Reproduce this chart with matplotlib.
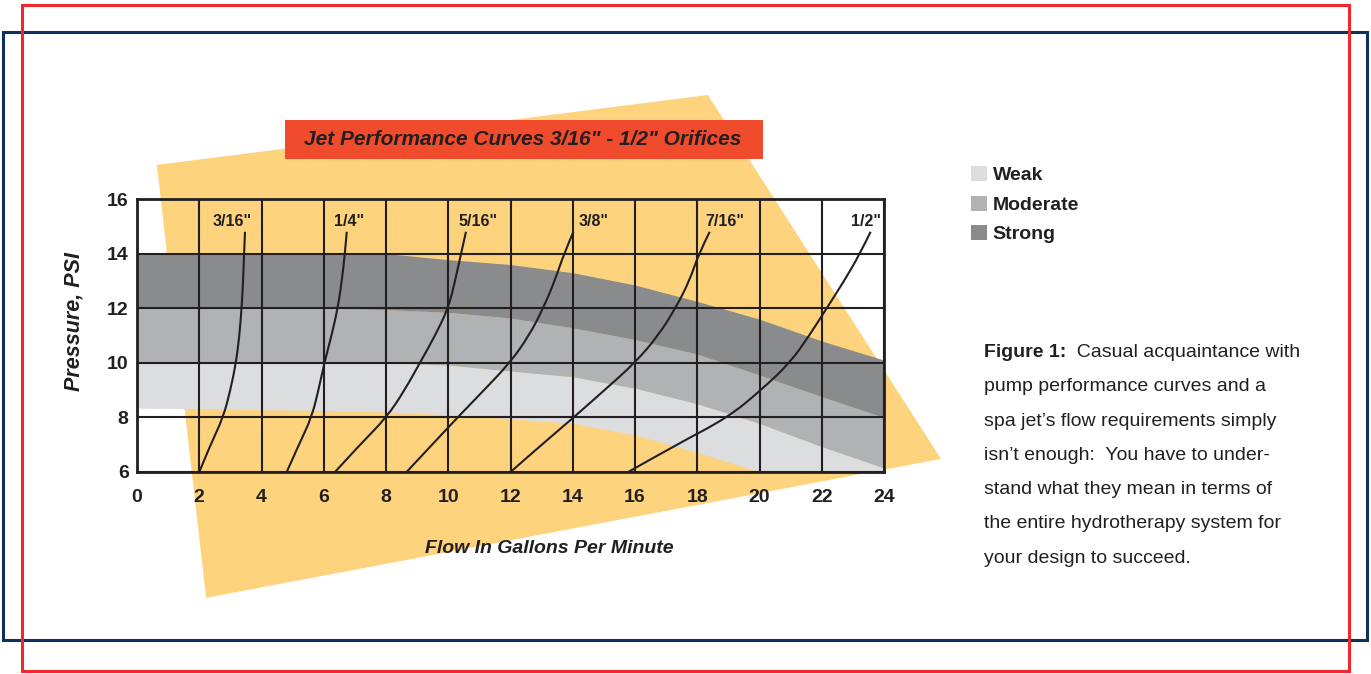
import numpy as np
import matplotlib.pyplot as plt
from matplotlib.patches import Rectangle, Patch, PathPatch
from matplotlib.path import Path

plt.rcParams['font.family'] = ['Liberation Sans', 'DejaVu Sans']
ink = '#231f20'

# pressure bands (psi) read along the flow axis (gpm)
flow = [0, 2, 4, 6, 8, 10, 12, 14, 16, 18, 20, 22, 24]
strong_top = [14, 14, 14, 14, 14, 13.78, 13.6, 13.3, 12.85, 12.25, 11.6, 10.8, 10.1]
strong_bottom = [12, 12, 12, 12, 11.95, 11.85, 11.64, 11.28, 10.85, 10.32, 9.55, 8.76, 8.0]
moderate_bottom = [10, 10, 10, 10, 10, 9.92, 9.7, 9.49, 9.07, 8.5, 7.78, 6.93, 6.15]
weak_bottom = [8.34, 8.32, 8.28, 8.25, 8.2, 8.1, 7.95, 7.78, 7.36, 6.72, 6.0, 6.0, 6.0]

band_names = ['Weak', 'Moderate', 'Strong']
band_colors = ['#dcdddf', '#b0b2b4', '#8a8b8d']

# orifice curves: flow (gpm) at each pressure
psi_pts = [6, 7, 8, 9, 10, 11, 12, 13, 14, 14.8]
orifices = ['3/16"', '1/4"', '5/16"', '3/8"', '7/16"', '1/2"']
gpm_316 = [2.0, 2.36, 2.77, 3.0, 3.18, 3.29, 3.36, 3.41, 3.44, 3.47]
gpm_14 = [4.81, 5.2, 5.61, 5.83, 6.02, 6.25, 6.45, 6.58, 6.68, 6.74]
gpm_516 = [6.36, 7.16, 8.02, 8.6, 9.09, 9.58, 10.0, 10.22, 10.41, 10.57]
gpm_38 = [8.66, 9.48, 10.3, 11.15, 11.98, 12.6, 13.05, 13.42, 13.72, 14.02]
gpm_716 = [12.0, 13.0, 14.03, 15.02, 16.0, 16.75, 17.3, 17.75, 18.05, 18.4]
gpm_12 = [15.78, 17.33, 18.99, 20.05, 20.98, 21.6, 22.16, 22.72, 23.23, 23.57]
label_dx = [-9.5, 1.5, 8.5, 14.5, 11, -3.5]  # label nudges, points

# yellow backdrop corners (data units)
back_x = [0.64, 18.34, 25.83, 2.22]
back_y = [17.25, 19.81, 6.48, 1.39]

caption = ["pump performance curves and a",
           "spa jet\u2019s flow requirements simply",
           "isn\u2019t enough:  You have to under-",
           "stand what they mean in terms of",
           "the entire hydrotherapy system for",
           "your design to succeed."]


def smooth_path(xs, ys):
    # quadratic bezier through midpoints, read points act as control points
    p = list(zip(xs, ys))
    verts = [p[0]]
    codes = [Path.MOVETO]
    for i in range(1, len(p) - 1):
        mid = ((p[i][0] + p[i + 1][0]) / 2, (p[i][1] + p[i + 1][1]) / 2)
        if i == len(p) - 2:
            mid = p[-1]
        verts += [p[i], mid]
        codes += [Path.CURVE3, Path.CURVE3]
    return Path(verts, codes)


W, H = 1371, 674
fig = plt.figure(figsize=(W / 100, H / 100), dpi=100)
ax = fig.add_axes([137 / W, 1 - 472 / H, 747 / W, 273 / H])
ax.patch.set_facecolor('none')

ax.fill(back_x, back_y, color='#fed37d', lw=0, clip_on=False, zorder=0.5)

ax.fill_between(flow, weak_bottom, moderate_bottom, color=band_colors[0], lw=0, zorder=1)
ax.fill_between(flow, moderate_bottom, strong_bottom, color=band_colors[1], lw=0, zorder=1)
ax.fill_between(flow, strong_bottom, strong_top, color=band_colors[2], lw=0, zorder=1)

curves = [gpm_316, gpm_14, gpm_516, gpm_38, gpm_716, gpm_12]
for gpm, name, dx in zip(curves, orifices, label_dx):
    ax.add_patch(PathPatch(smooth_path(gpm, psi_pts), fill=False, ec=ink, lw=1.5,
                           zorder=3, capstyle='butt'))
    ax.annotate(name, (gpm[-1], psi_pts[-1]), xytext=(dx, 7.5),
                textcoords='offset points', ha='center', va='center',
                fontsize=11.5, fontweight='bold', color=ink, zorder=4)

ax.set_xlim(0, 24)
ax.set_ylim(6, 16)
ax.set_xticks(np.arange(0, 25, 2))
ax.set_yticks(np.arange(6, 17, 2))
ax.set_axisbelow(False)
ax.grid(True, color=ink, lw=1.5)
for s in ax.spines.values():
    s.set_color(ink)
    s.set_linewidth(2.0)
    s.set_zorder(3.5)
ax.tick_params(length=0, labelsize=14, labelcolor=ink)
ax.tick_params(axis='x', pad=12.5)
ax.tick_params(axis='y', pad=6)
for t in ax.get_xticklabels() + ax.get_yticklabels():
    t.set_fontweight('bold')

ax.set_xlabel('Flow In Gallons Per Minute', fontsize=14, fontweight='bold',
              fontstyle='italic', color=ink)
ax.xaxis.set_label_coords((549 - 137) / 747, (472 - 540) / 273)
fig.text(74 / W, 1 - 321 / H, 'Pressure, PSI', rotation=90, ha='center', va='center',
         fontsize=15.5, fontweight='bold', fontstyle='italic', color=ink)

# title banner
fig.add_artist(Rectangle((285 / W, 1 - 159 / H), 478 / W, 39 / H,
                         transform=fig.transFigure, color='#ef4b2c', lw=0))
fig.text(523 / W, 1 - 139.5 / H, 'Jet Performance Curves 3/16" - 1/2" Orifices',
         ha='center', va='center', fontsize=15, fontweight='bold',
         fontstyle='italic', color=ink)

# legend
handles = [Patch(facecolor=c, edgecolor='none', label=n) for c, n in zip(band_colors, band_names)]
fig.legend(handles=handles, loc='upper left', bbox_to_anchor=(971 / W, 1 - 166 / H),
           frameon=False, borderpad=0, borderaxespad=0, handlelength=0.82,
           handleheight=0.82, handletextpad=0.3, labelspacing=0.58,
           prop={'weight': 'bold', 'size': 14}, labelcolor=ink)

# caption
fig.canvas.draw()
r = fig.canvas.get_renderer()
t0 = fig.text(984 / W, 1 - 357 / H, 'Figure 1:', fontsize=14, fontweight='bold',
              color=ink, va='baseline')
x1 = t0.get_window_extent(r).x1
fig.text(x1 / W, 1 - 357 / H, '  Casual acquaintance with', fontsize=14,
         color=ink, va='baseline')
for i, line in enumerate(caption):
    fig.text(984 / W, 1 - (357 + 34.3 * (i + 1)) / H, line, fontsize=14,
             color=ink, va='baseline')

# page frames
fig.add_artist(Rectangle((3 / W, 1 - 640 / H), 1364 / W, 608 / H, transform=fig.transFigure,
                         fill=False, ec='#0c2f64', lw=2.2))
fig.add_artist(Rectangle((22 / W, 1 - 671 / H), 1327 / W, 666 / H, transform=fig.transFigure,
                         fill=False, ec='#f0282d', lw=2.2))

fig.savefig('out.png', dpi=100, facecolor='white')
